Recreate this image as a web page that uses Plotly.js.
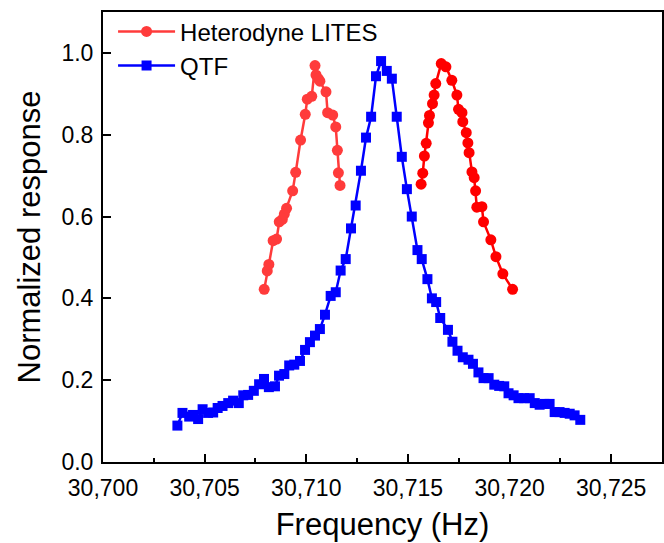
<!DOCTYPE html>
<html>
<head>
<meta charset="utf-8">
<script src="https://cdn.plot.ly/plotly-3.0.1.min.js"></script>
<style>html,body{margin:0;padding:0;background:#fff;}#chart{width:664px;height:543px;}</style>
</head>
<body>
<div id="chart"></div>
<script>
// Heterodyne LITES – lower-frequency branch
var litesLowFreq = [30707.93, 30708.08, 30708.16, 30708.37, 30708.54, 30708.67, 30708.82, 30708.92, 30709.03, 30709.33, 30709.48, 30709.72, 30709.95, 30710.05, 30710.27, 30710.43, 30710.48, 30710.59, 30710.67, 30710.97, 30711.05, 30711.30, 30711.45, 30711.53, 30711.58, 30711.66];
var litesLowResp = [0.422, 0.467, 0.483, 0.541, 0.545, 0.587, 0.593, 0.606, 0.620, 0.663, 0.708, 0.787, 0.850, 0.887, 0.894, 0.969, 0.946, 0.937, 0.931, 0.905, 0.854, 0.848, 0.819, 0.762, 0.707, 0.676];

// Heterodyne LITES – higher-frequency branch
var litesHighFreq = [30715.65, 30715.73, 30715.81, 30715.90, 30716.01, 30716.06, 30716.21, 30716.29, 30716.37, 30716.64, 30716.87, 30717.16, 30717.41, 30717.49, 30717.66, 30717.70, 30717.87, 30717.95, 30718.01, 30718.15, 30718.26, 30718.33, 30718.39, 30718.64, 30718.72, 30719.08, 30719.33, 30719.67, 30720.15];
var litesHighResp = [0.679, 0.706, 0.748, 0.779, 0.829, 0.847, 0.876, 0.897, 0.925, 0.974, 0.966, 0.933, 0.897, 0.862, 0.854, 0.832, 0.805, 0.780, 0.756, 0.709, 0.695, 0.663, 0.623, 0.624, 0.587, 0.543, 0.502, 0.460, 0.422];

// QTF
var qtfFreq = [30703.66, 30703.91, 30704.24, 30704.43, 30704.68, 30704.90, 30705.17, 30705.42, 30705.64, 30705.88, 30706.16, 30706.40, 30706.68, 30706.90, 30707.14, 30707.42, 30707.68, 30707.92, 30708.16, 30708.46, 30708.66, 30708.92, 30709.16, 30709.41, 30709.69, 30709.94, 30710.18, 30710.43, 30710.67, 30710.92, 30711.20, 30711.45, 30711.69, 30711.94, 30712.20, 30712.43, 30712.69, 30712.94, 30713.19, 30713.43, 30713.68, 30713.96, 30714.21, 30714.45, 30714.70, 30714.95, 30715.19, 30715.47, 30715.68, 30715.96, 30716.18, 30716.39, 30716.59, 30716.97, 30717.19, 30717.44, 30717.70, 30717.98, 30718.20, 30718.47, 30718.72, 30718.97, 30719.25, 30719.49, 30719.74, 30719.95, 30720.20, 30720.44, 30720.72, 30720.99, 30721.24, 30721.48, 30721.72, 30721.97, 30722.22, 30722.46, 30722.71, 30722.96, 30723.20, 30723.48];
var qtfResp = [0.089, 0.120, 0.111, 0.115, 0.105, 0.129, 0.120, 0.121, 0.132, 0.137, 0.144, 0.150, 0.144, 0.163, 0.164, 0.174, 0.190, 0.203, 0.183, 0.185, 0.211, 0.215, 0.236, 0.238, 0.247, 0.274, 0.293, 0.309, 0.325, 0.360, 0.406, 0.415, 0.468, 0.496, 0.571, 0.627, 0.712, 0.793, 0.844, 0.943, 0.980, 0.956, 0.937, 0.844, 0.746, 0.667, 0.600, 0.518, 0.496, 0.447, 0.400, 0.391, 0.352, 0.323, 0.294, 0.272, 0.256, 0.250, 0.240, 0.219, 0.205, 0.205, 0.189, 0.186, 0.185, 0.168, 0.163, 0.156, 0.156, 0.156, 0.144, 0.140, 0.142, 0.142, 0.122, 0.122, 0.120, 0.118, 0.114, 0.103];

var seriesNames = ['Heterodyne LITES', 'QTF'];
var xTickVals = [30700, 30705, 30710, 30715, 30720, 30725];
var yTickVals = [0.0, 0.2, 0.4, 0.6, 0.8, 1.0];

var traces = [
  {x: litesLowFreq, y: litesLowResp, name: seriesNames[0], type: 'scatter', mode: 'lines+markers',
   line: {color: '#FF3B3B', width: 2.5}, marker: {symbol: 'circle', size: 11, color: '#FF3B3B'}},
  {x: qtfFreq, y: qtfResp, name: seriesNames[1], type: 'scatter', mode: 'lines+markers',
   line: {color: '#0000FF', width: 2.5}, marker: {symbol: 'square', size: 10, color: '#0000FF'}},
  {x: litesHighFreq, y: litesHighResp, name: seriesNames[0], showlegend: false, type: 'scatter', mode: 'lines+markers',
   line: {color: '#FF0000', width: 2.5}, marker: {symbol: 'circle', size: 11, color: '#FF0000'}}
];

var fontFam = '"Liberation Sans", Arial, sans-serif';
var layout = {
  width: 664, height: 543,
  margin: {l: 103, r: 2, t: 12, b: 81},
  paper_bgcolor: '#fff', plot_bgcolor: '#fff',
  font: {family: fontFam, color: '#000', size: 23},
  showlegend: true,
  legend: {x: 0.018, y: 1.006, xanchor: 'left', yanchor: 'top', bgcolor: 'rgba(0,0,0,0)',
           font: {family: fontFam, size: 24, color: '#000'}, itemwidth: 57, tracegroupgap: 0},
  xaxis: {
    range: [30700, 30727.5], tickvals: xTickVals, tickformat: ',.0f',
    ticks: 'inside', ticklen: 8, tickwidth: 2, tickcolor: '#000',
    minor: {dtick: 2.5, ticks: 'inside', ticklen: 4, tickwidth: 2, tickcolor: '#000'},
    showline: true, linewidth: 2, linecolor: '#000', mirror: true,
    showgrid: false, zeroline: false, ticklabelstandoff: 4,
    tickfont: {family: fontFam, size: 23, color: '#000'},
    title: {text: 'Frequency (Hz)', font: {family: fontFam, size: 31, color: '#000'}, standoff: 14}
  },
  yaxis: {
    range: [0, 1.1], tickvals: yTickVals, tickformat: '.1f',
    ticks: 'inside', ticklen: 8, tickwidth: 2, tickcolor: '#000',
    showline: true, linewidth: 2, linecolor: '#000', mirror: true,
    showgrid: false, zeroline: false, ticklabelstandoff: 3,
    tickfont: {family: fontFam, size: 23, color: '#000'},
    title: {text: 'Normalized response', font: {family: fontFam, size: 31, color: '#000'}, standoff: 12}
  }
};

Plotly.newPlot('chart', traces, layout, {displayModeBar: false, staticPlot: true});
</script>
</body>
</html>
